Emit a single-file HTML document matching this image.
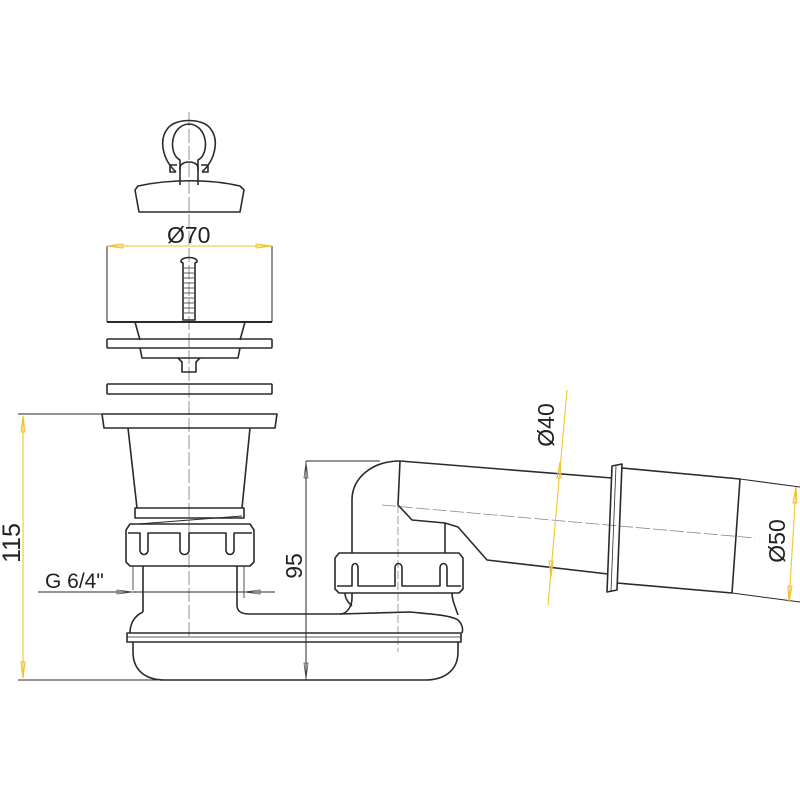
<!DOCTYPE html>
<html><head><style>html,body{margin:0;padding:0;background:#fff}svg{display:block}</style></head>
<body>
<svg width="800" height="800" viewBox="0 0 800 800" xmlns="http://www.w3.org/2000/svg" font-family="Liberation Sans, Arial, sans-serif">
<g fill="none" stroke="#2a2a2a" stroke-width="1.6" stroke-linejoin="round">
<!-- center lines -->
<line x1="189" y1="112" x2="189" y2="637" stroke="#777" stroke-width="0.8" stroke-dasharray="14,3"/>
<line x1="398" y1="505" x2="398" y2="652" stroke="#888" stroke-width="0.8" stroke-dasharray="8,3"/>
<line x1="382" y1="505" x2="755" y2="538" stroke="#888" stroke-width="0.8" stroke-dasharray="14,3"/>
<!-- stopper ring -->
<path d="M180 170 L180 160 C168 154 170 125 189 124 C208 125 210 154 198 160 L198 170"/>
<path d="M176 172 C163 160 158 140 168 128 C176 118 202 118 210 128 C220 140 215 160 202 172"/>
<path d="M177 165 L170 165 L170 172 L176 172 M201 165 L208 165 L208 172 L202 172"/>
<path d="M180 185 L180 168 C180 160 198 160 198 168 L198 185"/>
<path d="M138 186 C170 179 210 179 240 186 L244 190 L240 212 L139 212 L135 190 Z"/>
<!-- strainer -->
<line x1="107" y1="246" x2="107" y2="322" stroke-width="1"/>
<line x1="272" y1="246" x2="272" y2="322" stroke-width="1"/>
<path d="M181 262 C180 256 198 256 197 262 L195 263 L195 320 L183 320 L183 263 Z"/>
<path d="M184 268 H194 M184 273 H194 M184 278 H194 M184 283 H194 M184 288 H194 M184 293 H194 M184 298 H194 M184 303 H194 M184 308 H194 M184 313 H194" stroke-width="0.8"/>
<line x1="107" y1="322" x2="272" y2="322" stroke-width="2"/>
<path d="M135 322 L140 340 M245 322 L240 340"/>
<rect x="107" y="339" width="165" height="9" rx="1"/>
<path d="M140 348 L142 358 L238 358 L240 348"/>
<path d="M178 358 L182 362 L182 372 L196 372 L196 362 L200 358"/>
<!-- washer -->
<rect x="107" y="384" width="165" height="10" rx="1"/>
<!-- flange -->
<path d="M102 414 L277 414 L275 428 L104 428 Z"/>
<path d="M128 428 L137 508 M250 428 L242 508"/>
<rect x="135" y="508" width="109" height="10"/>
<line x1="138" y1="524" x2="242" y2="516" stroke-width="1"/>
<!-- left nut -->
<path d="M130 524 L250 524 L254 530 L254 562 L250 566 L130 566 L126 562 L126 530 Z"/>
<path d="M128 533 L140 533 L140 550 C140 556 148 556 148 550 L148 533 L180 533 L180 550 C180 556 189 556 189 550 L189 533 L226 533 L226 550 C226 556 234 556 234 550 L234 533 L252 533"/>
<path d="M133 566 L133 590 M244 566 L244 598" stroke-width="0.8"/>
<path d="M143 566 L143 612 M237 566 L237 605 C237 612 242 614 250 614 L340 614 C348 614 352 605 352 598 L352 593"/>
<!-- body -->
<path d="M143 612 C134 616 130 624 130 633 M340 614 L410 612 C430 614 450 615 458 620 C463 625 463 630 462 633"/>
<rect x="127" y="633" width="334" height="9"/>
<line x1="127" y1="637" x2="461" y2="637" stroke-width="0.8"/>
<path d="M133 642 L133 652 C133 670 145 680 165 680 L425 680 C445 680 458 670 458 652 L458 642"/>
<!-- right riser -->
<path d="M352 553 L352 500 C352 478 372 461 400 461"/>
<path d="M400 461 L612 478"/>
<path d="M400 461 L398 505 L412 520 L445 523 L458 527 L487 560 L608 574"/>
<line x1="445" y1="523" x2="445" y2="553"/>
<path d="M339 553 L459 553 L463 558 L463 589 L459 593 L339 593 L335 589 L335 558 Z"/>
<path d="M337 586 L352 586 L352 568 C352 562 358 562 358 568 L358 586 L395 586 L395 568 C395 562 402 562 402 568 L402 586 L440 586 L440 568 C440 562 447 562 447 568 L447 586 L461 586"/>
<path d="M345 593 C345 600 350 604 352 606 M452 593 C452 600 455 606 458 615"/>
<!-- collar and large pipe -->
<path d="M612 466 L622 464 L617 590 L607 592 Z"/>
<line x1="616" y1="466" x2="611" y2="591" stroke-width="0.8"/>
<path d="M622 468 L740 479 L732 593 L617 583"/>
<!-- dimension/extension lines -->
<line x1="18" y1="414" x2="102" y2="414" stroke-width="1"/>
<line x1="18" y1="680" x2="430" y2="680" stroke-width="1"/>
<line x1="306" y1="461" x2="380" y2="461" stroke-width="1"/>
<line x1="306" y1="461" x2="306" y2="680" stroke-width="1"/>
<line x1="38" y1="592" x2="275" y2="592" stroke-width="0.9"/>
<line x1="740" y1="479" x2="800" y2="487" stroke-width="1"/>
<line x1="732" y1="593" x2="800" y2="602" stroke-width="1"/>
</g>
<g fill="none" stroke="#555" stroke-width="0.8">
<path d="M306 462 L304 478 L308 478 Z M306 679 L304 663 L308 663 Z"/>
<path d="M133 592 L117 590 L117 594 Z M244 592 L260 590 L260 594 Z"/>
</g>
<g stroke="#f2c230" stroke-width="1.1" fill="none">
<line x1="107" y1="246" x2="272" y2="246"/>
<path d="M107 246 L123 244 L123 248 Z M272 246 L256 244 L256 248 Z"/>
<line x1="23" y1="416" x2="23" y2="678"/>
<path d="M23 416 L21 432 L25 432 Z M23 678 L21 662 L25 662 Z"/>
<line x1="567" y1="390" x2="548" y2="605"/>
<path d="M560 462 L557 478 L561 478 Z M551 577 L549 561 L553 561 Z"/>
<line x1="796" y1="487" x2="789" y2="602"/>
<path d="M796 487 L793 503 L797 503 Z M789 602 L788 586 L792 586 Z"/>
</g>
<g fill="#222" font-size="23">
<text x="167" y="243">Ø70</text>
<text x="45" y="588" font-size="21">G 6/4"</text>
<text transform="translate(20,543) rotate(-90)" text-anchor="middle" font-size="25">115</text>
<text transform="translate(302,566) rotate(-90)" text-anchor="middle">95</text>
<text transform="translate(554,425) rotate(-90)" text-anchor="middle">Ø40</text>
<text transform="translate(785,541) rotate(-90)" text-anchor="middle">Ø50</text>
</g>
</svg>
</body></html>
